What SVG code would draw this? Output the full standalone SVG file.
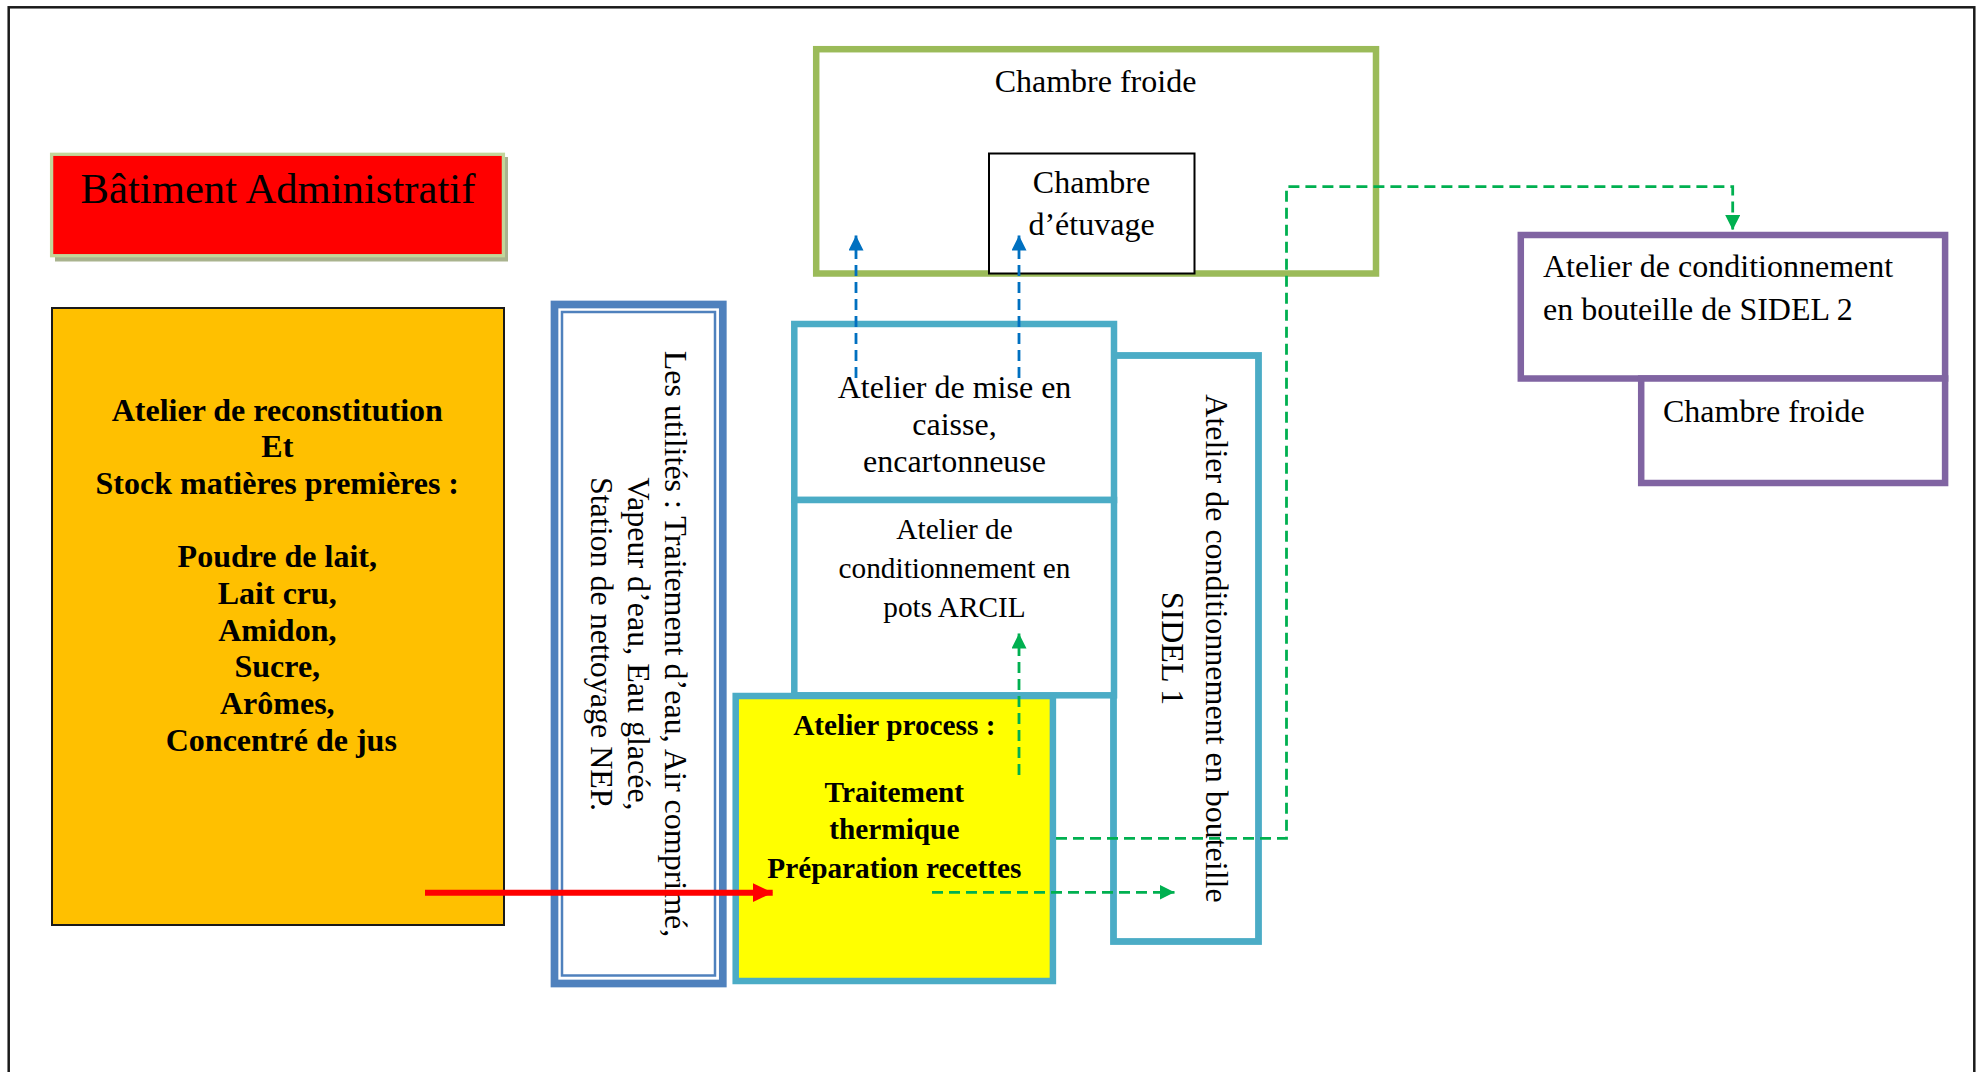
<svg xmlns="http://www.w3.org/2000/svg" width="1982" height="1072" viewBox="0 0 1982 1072">
<defs>
<style>
.t{font-family:"Liberation Serif","Times New Roman",serif;fill:#000}
.r32{font-size:32px}
.b32{font-size:32px;font-weight:bold}
.r29{font-size:29.3px}
.b29{font-size:29.3px;font-weight:bold}
.mid{text-anchor:middle}
.cy{fill:#fff;stroke:#4bacc6;stroke-width:6.5}
.pu{fill:#fff;stroke:#8064a2;stroke-width:6.5}
.gd{fill:none;stroke:#00b050;stroke-width:2.8;stroke-dasharray:11 6}
.bd{fill:none;stroke:#0070c0;stroke-width:2.8;stroke-dasharray:11 6}
</style>
<marker id="ag" markerUnits="userSpaceOnUse" markerWidth="16" markerHeight="15" refX="15" refY="7.5" orient="auto"><path d="M0,0 L15,7.5 L0,15 z" fill="#00b050"/></marker>
<marker id="ab" markerUnits="userSpaceOnUse" markerWidth="16" markerHeight="15" refX="15" refY="7.5" orient="auto"><path d="M0,0 L15,7.5 L0,15 z" fill="#0070c0"/></marker>
<marker id="ar" markerUnits="userSpaceOnUse" markerWidth="21" markerHeight="20" refX="20" refY="9.5" orient="auto"><path d="M0,0 L20,9.5 L0,19 z" fill="#ff0000"/></marker>
</defs>
<rect x="0" y="0" width="1982" height="1072" fill="#fff"/>
<rect id="frame" x="8.7" y="7.3" width="1965.6" height="1100" fill="none" stroke="#1a1a1a" stroke-width="2.5"/>

<g id="batiment-administratif">
<rect x="55" y="157" width="453" height="104.5" fill="#a9b38e"/>
<rect x="51.6" y="154.3" width="451.8" height="101.4" fill="#ff0000" stroke="#c3d69b" stroke-width="3.3"/>
<text class="t mid" x="278" y="202.7" font-size="42.7">Bâtiment Administratif</text>
</g>

<g id="atelier-reconstitution">
<rect x="52" y="308" width="452" height="617" fill="#ffc000" stroke="#1a1a1a" stroke-width="2"/>
<text class="t b32 mid" x="281.3">
<tspan x="281.3" y="420.5">Atelier de reconstitution</tspan>
<tspan x="281.3" y="457.2">Et</tspan>
<tspan x="281.3" y="493.9">Stock matières premières :</tspan>
<tspan x="281.3" y="567.3">Poudre de lait,</tspan>
<tspan x="281.3" y="604">Lait cru,</tspan>
<tspan x="281.3" y="640.7">Amidon,</tspan>
<tspan x="281.3" y="677.4">Sucre,</tspan>
<tspan x="281.3" y="714.1">Arômes,</tspan>
<tspan x="281.3" y="750.8">Concentré de jus</tspan>
</text>
</g>

<g id="utilites">
<rect x="554.5" y="304.5" width="168.3" height="679" fill="#fff" stroke="#4f81bd" stroke-width="7.7"/>
<rect x="562" y="312" width="153" height="663.5" fill="none" stroke="#4f81bd" stroke-width="2.5"/>
<text class="t r32 mid" transform="translate(665,644) rotate(90)" x="0" y="0">Les utilités : Traitement d’eau, Air comprimé,</text>
<text class="t r32 mid" transform="translate(628,644) rotate(90)" x="0" y="0">Vapeur d’eau, Eau glacée,</text>
<text class="t r32 mid" transform="translate(591,644) rotate(90)" x="0" y="0">Station de nettoyage NEP.</text>
</g>

<g id="chambre-froide">
<rect x="816.2" y="49.2" width="559.8" height="224.3" fill="#fff" stroke="#9bbb59" stroke-width="6.5"/>
<text class="t r32 mid" x="1095.5" y="91.7">Chambre froide</text>
</g>

<g id="chambre-etuvage">
<rect x="989" y="153.5" width="205.5" height="120" fill="#fff" stroke="#000" stroke-width="2"/>
<text class="t r32 mid"><tspan x="1091.5" y="192.7">Chambre</tspan><tspan x="1091.5" y="235">d’étuvage</tspan></text>
</g>

<g id="atelier-sidel1">
<rect x="1113.5" y="355.5" width="145" height="586" fill="#fff" stroke="#4bacc6" stroke-width="6.8"/>
<text class="t r32 mid" transform="translate(1206,648.5) rotate(90)" x="0" y="0">Atelier de conditionnement en bouteille</text>
<text class="t r32 mid" transform="translate(1162,648.5) rotate(90)" x="0" y="0">SIDEL 1</text>
</g>

<g id="atelier-mise-en-caisse">
<rect class="cy" x="794.3" y="324" width="319.7" height="176"/>
<text class="t r32 mid"><tspan x="954.5" y="398">Atelier de mise en</tspan><tspan x="954.5" y="435">caisse,</tspan><tspan x="954.5" y="471.7">encartonneuse</tspan></text>
</g>

<g id="atelier-arcil">
<rect class="cy" x="794.3" y="500" width="319.7" height="195.3"/>
<text class="t r29 mid"><tspan x="954.5" y="539">Atelier de</tspan><tspan x="954.5" y="578">conditionnement en</tspan><tspan x="954.5" y="617">pots ARCIL</tspan></text>
</g>

<g id="atelier-process">
<rect x="735.7" y="696" width="317.2" height="285" fill="#ffff00" stroke="#4bacc6" stroke-width="6.5"/>
<text class="t b29 mid"><tspan x="894.3" y="735.3">Atelier process :</tspan><tspan x="894.3" y="801.5">Traitement</tspan><tspan x="894.3" y="839.2">thermique</tspan><tspan x="894.3" y="878">Préparation recettes</tspan></text>
</g>

<g id="atelier-sidel2">
<rect class="pu" x="1520.8" y="235" width="424.3" height="143.5"/>
<text class="t r32"><tspan x="1543" y="276.7">Atelier de conditionnement</tspan><tspan x="1543" y="319.5">en bouteille de SIDEL 2</tspan></text>
</g>

<g id="chambre-froide-2">
<rect class="pu" x="1641.2" y="378.5" width="303.9" height="104.5"/>
<text class="t r32" x="1663" y="421.5">Chambre froide</text>
</g>

<g id="connectors">
<line x1="425" y1="892.7" x2="772.7" y2="892.7" stroke="#ff0000" stroke-width="6" marker-end="url(#ar)"/>
<path class="bd" d="M856,378 V235.5" marker-end="url(#ab)"/>
<path class="bd" d="M1019,378 V235.5" marker-end="url(#ab)"/>
<path class="gd" d="M1019,775 V633.5" marker-end="url(#ag)"/>
<path class="gd" d="M932,892.3 H1174.5" marker-end="url(#ag)"/>
<path class="gd" d="M1056,838.3 H1286.5 V186.7 H1732.7 V230" marker-end="url(#ag)"/>
</g>
</svg>
